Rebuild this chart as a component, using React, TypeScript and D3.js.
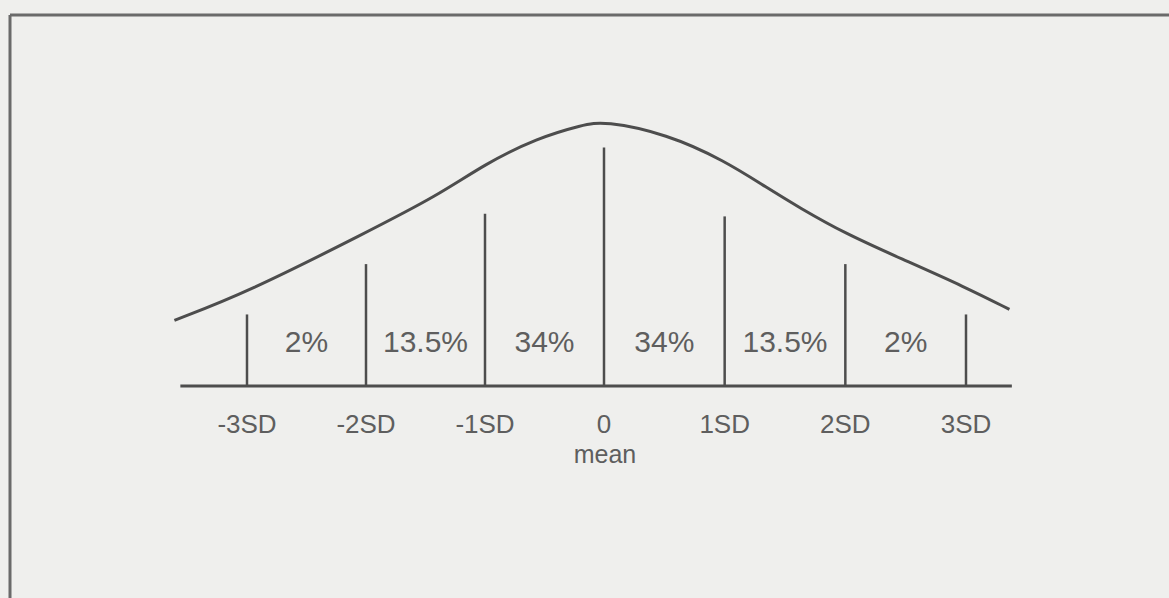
import React from "react";
import * as d3 from "d3";

// ---- data ----
const sdTicks = [-3, -2, -1, 0, 1, 2, 3];
const tickLabels = ["-3SD", "-2SD", "-1SD", "0", "1SD", "2SD", "3SD"];
// heights of the vertical divider lines (curve peak = 100)
const dividerHeights = [27, 46, 65, 90, 64, 46, 27];
const bandLabels = ["2%", "13.5%", "34%", "34%", "13.5%", "2%"];
// bell curve (x in SD units, height with peak = 100)
const curveX = [-3.61, -3, -2, -1.4, -1, -0.56, -0.18, 0, 0.52, 1, 1.35, 1.62, 2, 2.46, 3, 3.36];
const curveY = [24.8, 35.3, 57.9, 71.8, 83.8, 93.6, 98.5, 100, 95.1, 85, 74.8, 67.3, 57.5, 48.1, 37.2, 28.9];
const axisExtent = [-3.56, 3.38];
const meanLabel = "mean";

const W = 1169;
const H = 598;

export default function App() {
  const x = d3.scaleLinear().domain([-3, 0, 3]).range([247, 604, 966]);
  const y = d3.scaleLinear().domain([0, 100]).range([386, 121]);

  const pts: [number, number][] = curveX.map((v, i) => [v, curveY[i]]);
  const line = d3
    .line<[number, number]>()
    .x((d) => x(d[0]))
    .y((d) => y(d[1]))
    .curve(d3.curveBasis);

  const stroke = "#4d4d4d";
  const textFill = "#5e5e5e";
  const font = "'Liberation Sans', Arial, sans-serif";

  return (
    <svg
      width={W}
      height={H}
      style={{ position: "absolute", left: 0, top: 0, display: "block" }}
    >
      <rect x={0} y={0} width={W} height={H} fill="#efefed" />
      {/* frame */}
      <line x1={10} y1={15} x2={W} y2={15} stroke="#6a6a6a" strokeWidth={3} />
      <line x1={10} y1={15} x2={10} y2={H} stroke="#6a6a6a" strokeWidth={3} />

      {/* axis */}
      <line
        x1={x(axisExtent[0])}
        x2={x(axisExtent[1])}
        y1={y(0)}
        y2={y(0)}
        stroke={stroke}
        strokeWidth={3}
      />

      {/* dividers */}
      {sdTicks.map((t, i) => (
        <line
          key={"d" + t}
          x1={x(t)}
          x2={x(t)}
          y1={y(0)}
          y2={y(dividerHeights[i])}
          stroke={stroke}
          strokeWidth={2.5}
        />
      ))}

      {/* curve */}
      <path d={line(pts) || ""} fill="none" stroke={stroke} strokeWidth={3} />

      {/* band labels */}
      {bandLabels.map((lab, i) => (
        <text
          key={"b" + i}
          x={(x(sdTicks[i]) + x(sdTicks[i + 1])) / 2}
          y={y(0) - 34}
          textAnchor="middle"
          fontFamily={font}
          fontSize={30}
          fill={textFill}
        >
          {lab}
        </text>
      ))}

      {/* tick labels */}
      {sdTicks.map((t, i) => (
        <text
          key={"t" + t}
          x={x(t)}
          y={y(0) + 47}
          textAnchor="middle"
          fontFamily={font}
          fontSize={26}
          fill={textFill}
        >
          {tickLabels[i]}
        </text>
      ))}
      <text
        x={x(0) + 1}
        y={y(0) + 77}
        textAnchor="middle"
        fontFamily={font}
        fontSize={25}
        fill={textFill}
      >
        {meanLabel}
      </text>
    </svg>
  );
}
